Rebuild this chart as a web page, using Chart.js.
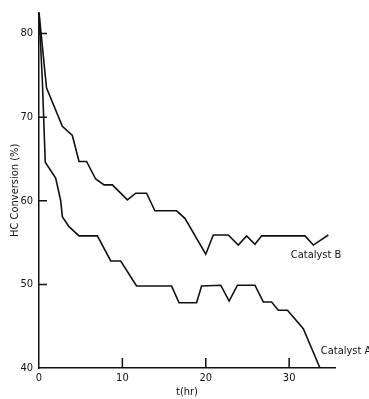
<!DOCTYPE html>
<html>
<head>
<meta charset="utf-8">
<script src="https://cdn.jsdelivr.net/npm/chart.js@4"></script>
<style>
  html, body { margin: 0; padding: 0; background: #ffffff; }
  canvas { display: block; }
</style>
</head>
<body>
<canvas id="hcChart" width="369" height="399"></canvas>
<script>
// Values (time in hours, conversion in %)
const timeA = [0, 0.4, 0.75, 2.0, 2.6, 2.8, 3.6, 4.8, 7.0, 8.6, 9.8, 11.7, 15.9, 16.8, 18.9, 19.5, 21.8, 22.8, 23.8, 25.9, 26.9, 27.9, 28.7, 29.8, 31.7, 33.7];
const convA = [82.5, 74.4, 64.6, 62.7, 60.0, 58.1, 56.9, 55.8, 55.8, 52.8, 52.8, 49.8, 49.8, 47.8, 47.8, 49.8, 49.9, 48.0, 49.9, 49.9, 47.9, 47.9, 46.9, 46.9, 44.7, 40.0];
const timeB = [0, 0.9, 2.8, 4.0, 4.8, 5.7, 6.8, 7.8, 8.8, 10.6, 11.6, 12.9, 13.9, 16.5, 17.5, 20.0, 20.9, 22.7, 23.9, 24.9, 25.9, 26.7, 31.9, 32.9, 34.7];
const convB = [82.5, 73.5, 68.9, 67.8, 64.7, 64.7, 62.6, 61.9, 61.9, 60.1, 60.9, 60.9, 58.8, 58.8, 57.9, 53.6, 55.9, 55.9, 54.7, 55.8, 54.8, 55.8, 55.8, 54.7, 55.9];
const xTicks = [0, 10, 20, 30];
const yTicks = [40, 50, 60, 70, 80];
const seriesNames = ["Catalyst A", "Catalyst B"];
// where the curve names sit, in data units
const nameSpots = [[33.8, 42.0], [30.2, 53.5]];

const FONT = "'Liberation Sans Narrow', 'DejaVu Sans Condensed', sans-serif";
const INK = "#111111";

const toPoints = (ts, vs) => ts.map((t, i) => ({ x: t, y: vs[i] }));

// inward tick marks and the curve names
const annotations = {
  id: "annotations",
  afterDatasetsDraw(chart) {
    const { ctx, scales } = chart;
    const x = scales.x, y = scales.y;
    ctx.save();
    ctx.strokeStyle = INK;
    ctx.lineWidth = 1.5;
    ctx.beginPath();
    xTicks.filter((v) => v > 0).forEach((v) => {
      const px = x.getPixelForValue(v);
      ctx.moveTo(px, y.bottom);
      ctx.lineTo(px, y.bottom - 10);
    });
    yTicks.filter((v) => v > 40).forEach((v) => {
      const py = y.getPixelForValue(v);
      ctx.moveTo(x.left - 1, py);
      ctx.lineTo(x.left + 8, py);
    });
    ctx.stroke();

    ctx.fillStyle = INK;
    ctx.font = "11px " + FONT;
    ctx.textBaseline = "middle";
    seriesNames.forEach((name, i) => {
      const [t, v] = nameSpots[i];
      ctx.fillText(name, x.getPixelForValue(t), y.getPixelForValue(v));
    });
    ctx.restore();
  },
};

const lineStyle = {
  borderColor: INK,
  borderWidth: 1.6,
  pointRadius: 0,
  tension: 0,
  fill: false,
};

new Chart(document.getElementById("hcChart").getContext("2d"), {
  type: "line",
  data: {
    datasets: [
      { label: seriesNames[0], data: toPoints(timeA, convA), ...lineStyle },
      { label: seriesNames[1], data: toPoints(timeB, convB), ...lineStyle },
    ],
  },
  options: {
    responsive: false,
    animation: false,
    layout: { padding: { top: 12, right: 34, left: 9, bottom: 0 } },
    plugins: {
      legend: { display: false },
      tooltip: { enabled: false },
    },
    scales: {
      x: {
        type: "linear",
        min: 0,
        max: 35.5,
        afterBuildTicks: (s) => { s.ticks = xTicks.map((v) => ({ value: v })); },
        afterFit: (s) => { s.height = 31; },
        grid: { display: false, drawTicks: false },
        border: { color: INK, width: 1.5 },
        ticks: { color: INK, font: { family: FONT, size: 11 }, padding: 4, maxRotation: 0 },
        title: { display: true, text: "t(hr)", color: INK, font: { family: FONT, size: 11 }, padding: { top: 2, bottom: 0 } },
      },
      y: {
        type: "linear",
        min: 40,
        max: 82.5,
        afterBuildTicks: (s) => { s.ticks = yTicks.map((v) => ({ value: v })); },
        afterFit: (s) => { s.width = 30; },
        grid: { display: false, drawTicks: false },
        border: { color: INK, width: 1.5 },
        ticks: { color: INK, font: { family: FONT, size: 11 }, padding: 6 },
        title: { display: true, text: "HC Conversion (%)", color: INK, font: { family: FONT, size: 11 }, padding: 0 },
      },
    },
  },
  plugins: [annotations],
});
</script>
</body>
</html>
